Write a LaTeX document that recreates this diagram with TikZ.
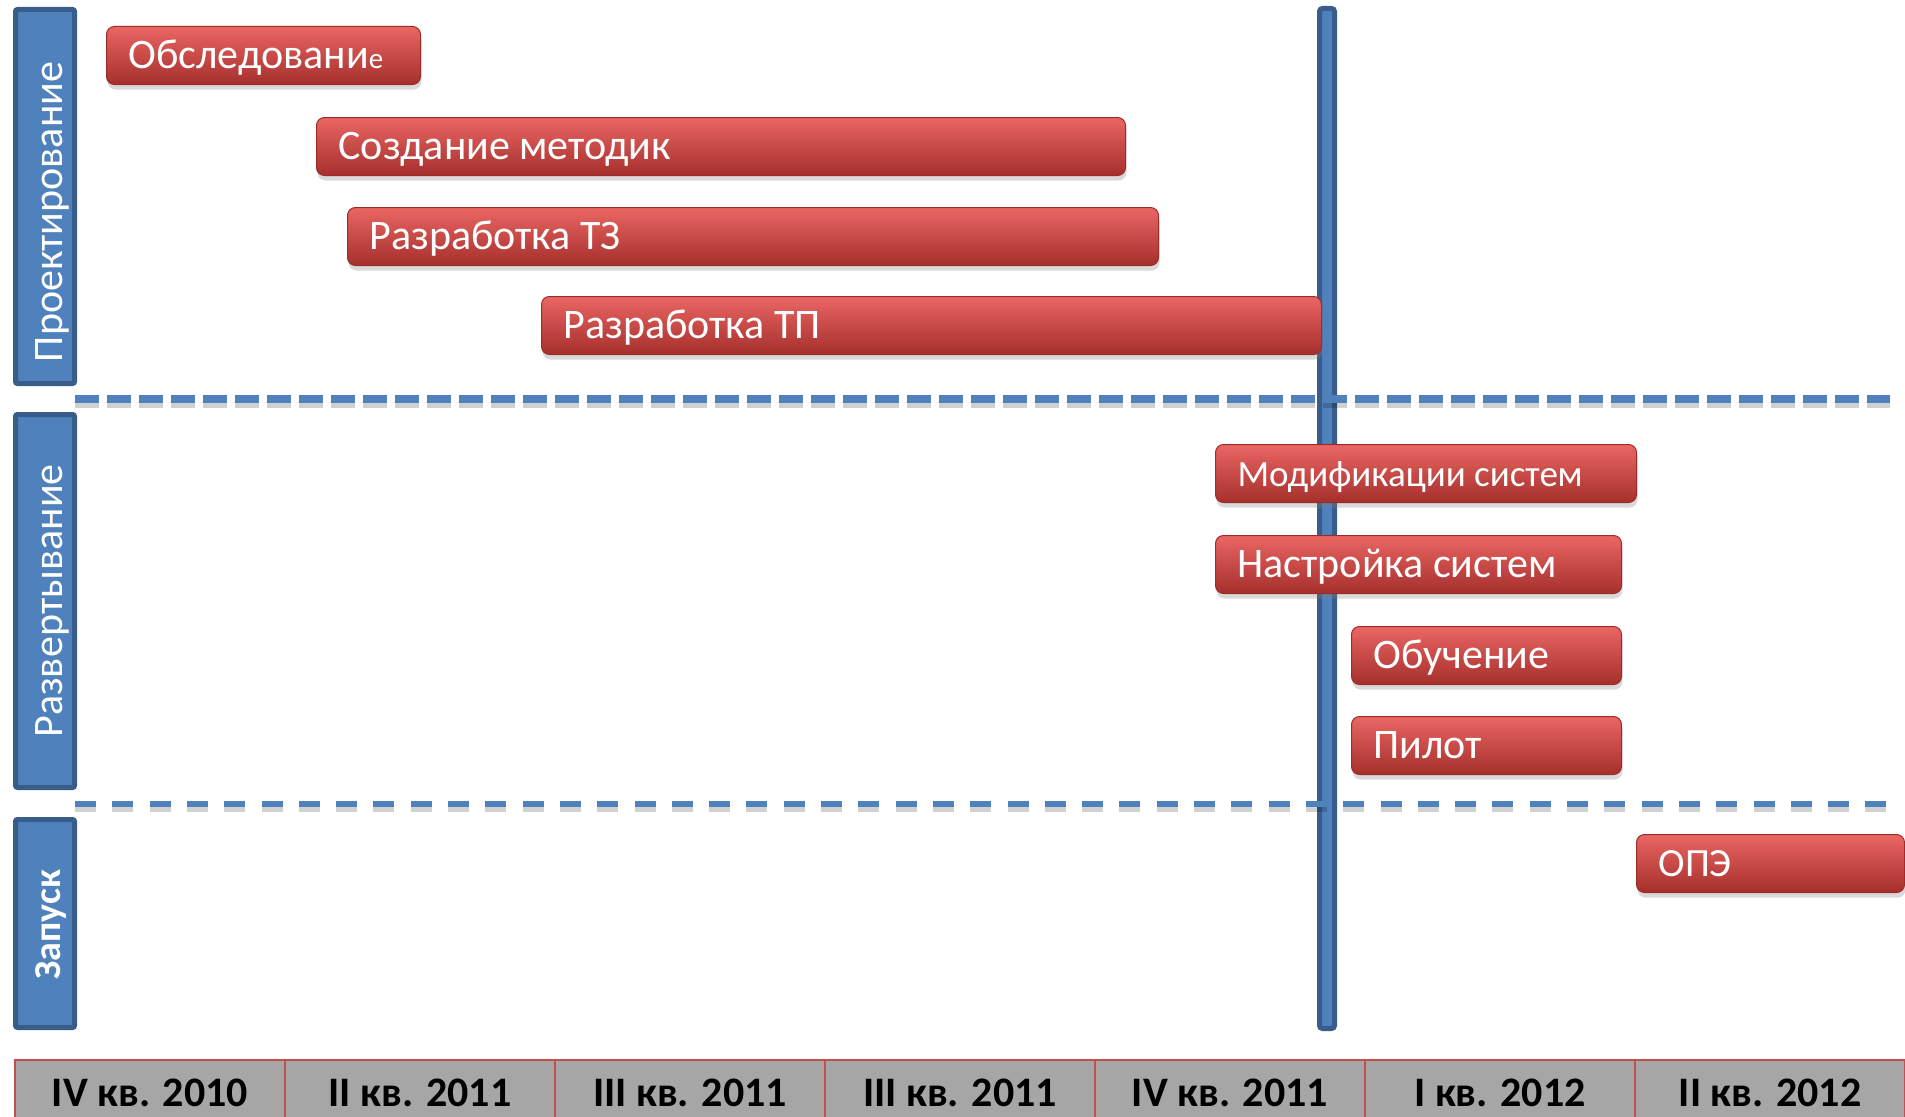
\documentclass[tikz,border=0pt]{standalone}
\usepackage{fontspec}
\setmainfont{Carlito}
\usetikzlibrary{shadows}
\definecolor{laneblue}{HTML}{4F81BD}
\definecolor{lanedark}{HTML}{385D8A}
\definecolor{redtop}{HTML}{EA6663}
\definecolor{redmid}{HTML}{CF403D}
\definecolor{redbot}{HTML}{A52F2C}
\definecolor{redline}{HTML}{9A2C2A}
\definecolor{cellgray}{HTML}{A6A6A6}
\definecolor{cellred}{HTML}{C0504D}
\newcommand{\bartext}[2]{\makebox[#1][l]{#2}}
\begin{document}
\begin{tikzpicture}[x=1pt,y=-1pt,
  lanebox/.style={anchor=north west, draw=lanedark, fill=laneblue, line width=5pt, rounded corners=2pt, minimum width=59pt, inner sep=0pt},
  lanetext/.style={rotate=90, anchor=base, text=white, inner sep=0pt, font=\fontsize{42}{42}\selectfont},
  ganttbar/.style={anchor=north west, minimum height=58pt, rounded corners=8pt,
    top color=redtop, middle color=redmid, bottom color=redbot, draw=redline, line width=1pt,
    text=white, inner xsep=22pt, inner ysep=0pt, text height=28pt, text depth=2pt,
    font=\fontsize{42}{42}\selectfont,
    drop shadow={shadow xshift=1pt, shadow yshift=-5pt, opacity=0.3}},
  qcell/.style={anchor=north west, minimum width=270pt, minimum height=80pt, fill=cellgray, draw=cellred, line width=2pt, inner sep=0pt, text height=30pt, text depth=18pt, font=\bfseries\fontsize{42}{42}\selectfont},
  dashshadow/.style={line width=#1, black, opacity=0.18}
]
\useasboundingbox (0,0) rectangle (1905,1116);
% lanes
\node[lanebox, minimum height=374pt] (L1) at (13,7) {};
\node[lanebox, minimum height=373pt] (L2) at (13,412) {};
\node[lanebox, minimum height=208pt] (L3) at (13,817) {};
\node[lanetext] (T1) at (62,212) {Проектирование};
\node[lanetext] (T2) at (62,601) {Развертывание};
\node[lanetext, font=\bfseries\fontsize{38}{38}\selectfont] (T3) at (60,925) {Запуск};
% vertical line
\node[anchor=north west, draw=lanedark, fill=laneblue, line width=5pt, rounded corners=3pt, minimum width=15pt, minimum height=1020pt, inner sep=0pt] (VL) at (1317,6) {};
% dashed separators
\coordinate (D1a) at (75,399); \coordinate (D1b) at (1890,399);
\coordinate (D2a) at (75,804); \coordinate (D2b) at (1890,804);
\draw[dashshadow=8pt, dash pattern=on 24pt off 8pt] ([yshift=-5pt]D1a) -- ([yshift=-5pt]D1b);
\draw[line width=8pt, laneblue, dash pattern=on 24pt off 8pt] (D1a) -- (D1b);
\draw[dashshadow=6pt, dash pattern=on 21pt off 16.3pt] ([yshift=-5pt]D2a) -- ([yshift=-5pt]D2b);
\draw[line width=6pt, laneblue, dash pattern=on 21pt off 16.3pt] (D2a) -- (D2b);
% bars
\node[ganttbar] (B1) at (106,26) {\bartext{270pt}{Обследовани{\fontsize{29}{29}\selectfont е}}};
\node[ganttbar] (B2) at (316,117) {\bartext{765pt}{Создание методик}};
\node[ganttbar] (B3) at (347,207) {\bartext{767pt}{Разработка ТЗ}};
\node[ganttbar] (B4) at (541,296) {\bartext{736pt}{Разработка ТП}};
\node[ganttbar, font=\fontsize{37}{37}\selectfont] (B5) at (1215,444) {\bartext{377pt}{Модификации систем}};
\node[ganttbar] (B6) at (1215,535) {\bartext{362pt}{Настройка систем}};
\node[ganttbar] (B7) at (1351,626) {\bartext{226pt}{Обучение}};
\node[ganttbar] (B8) at (1351,716) {\bartext{226pt}{Пилот}};
\node[ganttbar, font=\fontsize{40}{40}\selectfont] (B9) at (1636,834) {\bartext{224pt}{ОПЭ}};
% quarters
\node[qcell] (Q1) at (14,1059) {IV кв. 2010};
\node[qcell] (Q2) at (284,1059) {II кв. 2011};
\node[qcell] (Q3) at (554,1059) {III кв. 2011};
\node[qcell] (Q4) at (824,1059) {III кв. 2011};
\node[qcell] (Q5) at (1094,1059) {IV кв. 2011};
\node[qcell] (Q6) at (1364,1059) {I кв. 2012};
\node[qcell] (Q7) at (1634,1059) {II кв. 2012};
\end{tikzpicture}
\end{document}
